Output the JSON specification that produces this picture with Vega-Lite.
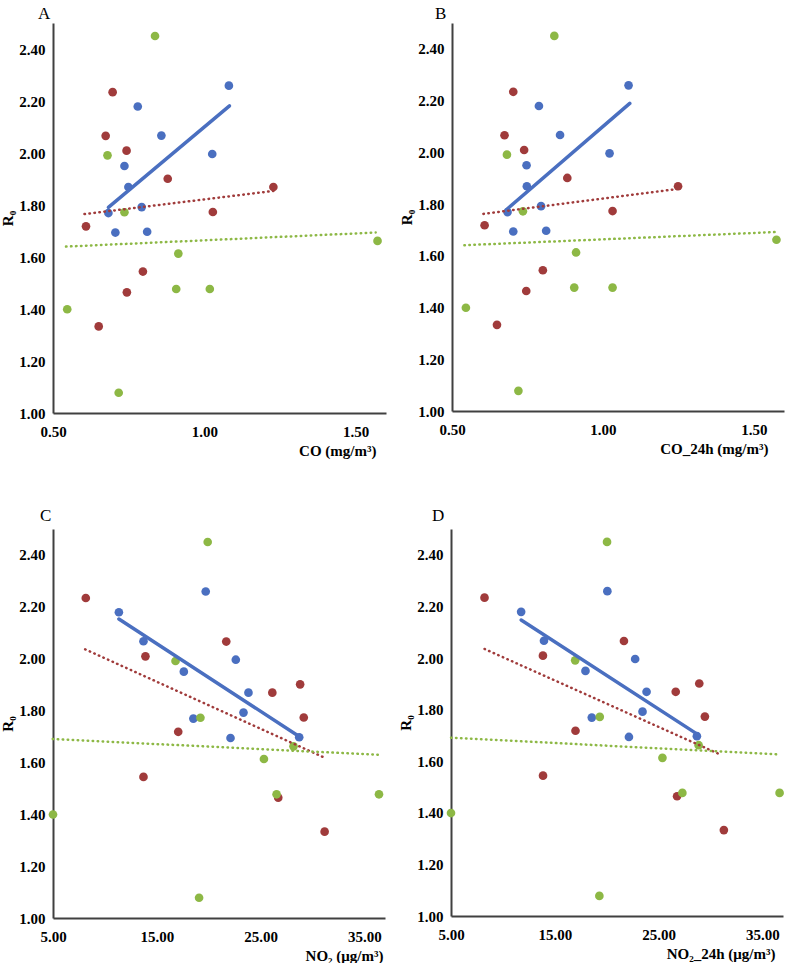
{
  "$schema": "https://vega.github.io/schema/vega-lite/v6.json",
  "background": "white",
  "padding": {"left": 0, "top": 5, "right": 2, "bottom": 0},
  "datasets": {
    "pts": [
      {"p":"A","s":"S1","x":1.081,"r0":2.259},{"p":"A","s":"S1","x":0.78,"r0":2.179},{"p":"A","s":"S1","x":0.858,"r0":2.067},{"p":"A","s":"S1","x":1.026,"r0":1.996},{"p":"A","s":"S1","x":0.736,"r0":1.95},{"p":"A","s":"S1","x":0.749,"r0":1.869},{"p":"A","s":"S1","x":0.793,"r0":1.792},{"p":"A","s":"S1","x":0.683,"r0":1.769},{"p":"A","s":"S1","x":0.706,"r0":1.694},{"p":"A","s":"S1","x":0.811,"r0":1.697},
      {"p":"A","s":"S2","x":0.697,"r0":2.234},{"p":"A","s":"S2","x":0.674,"r0":2.066},{"p":"A","s":"S2","x":0.743,"r0":2.009},{"p":"A","s":"S2","x":0.879,"r0":1.901},{"p":"A","s":"S2","x":1.228,"r0":1.869},{"p":"A","s":"S2","x":1.028,"r0":1.773},{"p":"A","s":"S2","x":0.609,"r0":1.718},{"p":"A","s":"S2","x":0.797,"r0":1.544},{"p":"A","s":"S2","x":0.744,"r0":1.464},{"p":"A","s":"S2","x":0.651,"r0":1.333},
      {"p":"A","s":"S3","x":0.837,"r0":2.45},{"p":"A","s":"S3","x":0.68,"r0":1.991},{"p":"A","s":"S3","x":0.736,"r0":1.772},{"p":"A","s":"S3","x":1.572,"r0":1.662},{"p":"A","s":"S3","x":0.914,"r0":1.613},{"p":"A","s":"S3","x":0.907,"r0":1.477},{"p":"A","s":"S3","x":1.018,"r0":1.477},{"p":"A","s":"S3","x":0.547,"r0":1.399},{"p":"A","s":"S3","x":0.717,"r0":1.078},
      {"p":"B","s":"S1","x":1.085,"r0":2.259},{"p":"B","s":"S1","x":0.788,"r0":2.179},{"p":"B","s":"S1","x":0.858,"r0":2.067},{"p":"B","s":"S1","x":1.022,"r0":1.996},{"p":"B","s":"S1","x":0.747,"r0":1.95},{"p":"B","s":"S1","x":0.748,"r0":1.869},{"p":"B","s":"S1","x":0.795,"r0":1.792},{"p":"B","s":"S1","x":0.684,"r0":1.769},{"p":"B","s":"S1","x":0.703,"r0":1.694},{"p":"B","s":"S1","x":0.812,"r0":1.697},
      {"p":"B","s":"S2","x":0.703,"r0":2.234},{"p":"B","s":"S2","x":0.674,"r0":2.066},{"p":"B","s":"S2","x":0.739,"r0":2.009},{"p":"B","s":"S2","x":0.882,"r0":1.901},{"p":"B","s":"S2","x":1.249,"r0":1.869},{"p":"B","s":"S2","x":1.032,"r0":1.773},{"p":"B","s":"S2","x":0.608,"r0":1.718},{"p":"B","s":"S2","x":0.801,"r0":1.544},{"p":"B","s":"S2","x":0.746,"r0":1.464},{"p":"B","s":"S2","x":0.649,"r0":1.333},
      {"p":"B","s":"S3","x":0.839,"r0":2.45},{"p":"B","s":"S3","x":0.682,"r0":1.991},{"p":"B","s":"S3","x":0.735,"r0":1.772},{"p":"B","s":"S3","x":1.575,"r0":1.662},{"p":"B","s":"S3","x":0.911,"r0":1.613},{"p":"B","s":"S3","x":0.905,"r0":1.477},{"p":"B","s":"S3","x":1.032,"r0":1.477},{"p":"B","s":"S3","x":0.546,"r0":1.399},{"p":"B","s":"S3","x":0.72,"r0":1.078},
      {"p":"C","s":"S1","x":19.72,"r0":2.259},{"p":"C","s":"S1","x":11.35,"r0":2.179},{"p":"C","s":"S1","x":13.72,"r0":2.067},{"p":"C","s":"S1","x":22.62,"r0":1.996},{"p":"C","s":"S1","x":17.61,"r0":1.95},{"p":"C","s":"S1","x":23.84,"r0":1.869},{"p":"C","s":"S1","x":23.36,"r0":1.792},{"p":"C","s":"S1","x":18.53,"r0":1.769},{"p":"C","s":"S1","x":22.11,"r0":1.694},{"p":"C","s":"S1","x":28.73,"r0":1.697},
      {"p":"C","s":"S2","x":8.16,"r0":2.234},{"p":"C","s":"S2","x":21.7,"r0":2.066},{"p":"C","s":"S2","x":13.91,"r0":2.009},{"p":"C","s":"S2","x":28.82,"r0":1.901},{"p":"C","s":"S2","x":26.14,"r0":1.869},{"p":"C","s":"S2","x":29.17,"r0":1.773},{"p":"C","s":"S2","x":17.07,"r0":1.718},{"p":"C","s":"S2","x":13.72,"r0":1.544},{"p":"C","s":"S2","x":26.71,"r0":1.464},{"p":"C","s":"S2","x":31.18,"r0":1.333},
      {"p":"C","s":"S3","x":19.91,"r0":2.45},{"p":"C","s":"S3","x":16.81,"r0":1.991},{"p":"C","s":"S3","x":19.21,"r0":1.772},{"p":"C","s":"S3","x":28.18,"r0":1.662},{"p":"C","s":"S3","x":25.33,"r0":1.613},{"p":"C","s":"S3","x":26.55,"r0":1.477},{"p":"C","s":"S3","x":36.42,"r0":1.477},{"p":"C","s":"S3","x":5.0,"r0":1.399},{"p":"C","s":"S3","x":19.08,"r0":1.078},
      {"p":"D","s":"S1","x":20.07,"r0":2.259},{"p":"D","s":"S1","x":11.76,"r0":2.179},{"p":"D","s":"S1","x":13.96,"r0":2.067},{"p":"D","s":"S1","x":22.75,"r0":1.996},{"p":"D","s":"S1","x":17.96,"r0":1.95},{"p":"D","s":"S1","x":23.85,"r0":1.869},{"p":"D","s":"S1","x":23.46,"r0":1.792},{"p":"D","s":"S1","x":18.57,"r0":1.769},{"p":"D","s":"S1","x":22.15,"r0":1.694},{"p":"D","s":"S1","x":28.7,"r0":1.697},
      {"p":"D","s":"S2","x":8.23,"r0":2.234},{"p":"D","s":"S2","x":21.67,"r0":2.066},{"p":"D","s":"S2","x":13.86,"r0":2.009},{"p":"D","s":"S2","x":28.93,"r0":1.901},{"p":"D","s":"S2","x":26.66,"r0":1.869},{"p":"D","s":"S2","x":29.47,"r0":1.773},{"p":"D","s":"S2","x":17.0,"r0":1.718},{"p":"D","s":"S2","x":13.87,"r0":1.544},{"p":"D","s":"S2","x":26.79,"r0":1.464},{"p":"D","s":"S2","x":31.3,"r0":1.333},
      {"p":"D","s":"S3","x":20.04,"r0":2.45},{"p":"D","s":"S3","x":16.97,"r0":1.991},{"p":"D","s":"S3","x":19.34,"r0":1.772},{"p":"D","s":"S3","x":28.87,"r0":1.662},{"p":"D","s":"S3","x":25.38,"r0":1.613},{"p":"D","s":"S3","x":27.3,"r0":1.477},{"p":"D","s":"S3","x":36.67,"r0":1.477},{"p":"D","s":"S3","x":5.0,"r0":1.399},{"p":"D","s":"S3","x":19.3,"r0":1.078}
    ],
    "trend": [
      {"p":"A","s":"S1","x":0.683,"r0":1.791},{"p":"A","s":"S1","x":1.083,"r0":2.181},
      {"p":"A","s":"S2","x":0.604,"r0":1.765},{"p":"A","s":"S2","x":1.228,"r0":1.854},
      {"p":"A","s":"S3","x":0.543,"r0":1.64},{"p":"A","s":"S3","x":1.566,"r0":1.694},
      {"p":"B","s":"S1","x":0.682,"r0":1.78},{"p":"B","s":"S1","x":1.089,"r0":2.189},
      {"p":"B","s":"S2","x":0.604,"r0":1.762},{"p":"B","s":"S2","x":1.245,"r0":1.858},
      {"p":"B","s":"S3","x":0.541,"r0":1.641},{"p":"B","s":"S3","x":1.576,"r0":1.692},
      {"p":"C","s":"S1","x":11.35,"r0":2.153},{"p":"C","s":"S1","x":28.73,"r0":1.7},
      {"p":"C","s":"S2","x":8.1,"r0":2.036},{"p":"C","s":"S2","x":31.18,"r0":1.618},
      {"p":"C","s":"S3","x":4.97,"r0":1.69},{"p":"C","s":"S3","x":36.5,"r0":1.629},
      {"p":"D","s":"S1","x":11.76,"r0":2.147},{"p":"D","s":"S1","x":28.77,"r0":1.704},
      {"p":"D","s":"S2","x":8.23,"r0":2.035},{"p":"D","s":"S2","x":31.0,"r0":1.625},
      {"p":"D","s":"S3","x":5.0,"r0":1.691},{"p":"D","s":"S3","x":36.67,"r0":1.626}
    ]
  },
  "config": {
    "view": {"stroke": null},
    "axis": {"grid": false, "ticks": false, "domainColor": "#404040", "domainWidth": 2, "labelFont": "Liberation Serif", "labelFontWeight": "bold", "labelFontSize": 15, "labelColor": "#000000", "titleFont": "Liberation Serif", "titleFontWeight": "bold", "titleFontSize": 15, "titleColor": "#000000"},
    "axisX": {"labelPadding": 11, "titlePadding": 4, "labelFlush": false, "titleAnchor": "end", "titleAlign": "right"},
    "axisY": {"labelPadding": 8, "titlePadding": 3},
    "title": {"font": "Liberation Serif", "fontSize": 17, "fontWeight": "normal", "anchor": "start", "frame": "group", "color": "#000000"}
  },
  "spacing": 49,
  "vconcat": [
    {
      "spacing": 13,
      "hconcat": [
        {
          "width": 333, "height": 390,
          "title": {"text": "A", "dx": -15, "offset": 0},
          "encoding": {
            "x": {"field": "x", "type": "quantitative", "scale": {"domain": [0.5, 1.6], "nice": false, "zero": false}, "axis": {"values": [0.5, 1.0, 1.5], "format": ".2f", "title": "CO (mg/m³)", "titleX": 323}},
            "y": {"field": "r0", "type": "quantitative", "scale": {"domain": [1.0, 2.5], "nice": false, "zero": false}, "axis": {"values": [1.0, 1.2, 1.4, 1.6, 1.8, 2.0, 2.2, 2.4], "format": ".2f", "title": "R₀"}},
            "color": {"field": "s", "type": "nominal", "scale": {"domain": ["S1", "S2", "S3"], "range": ["#4A6FC0", "#A03B3B", "#8DB845"]}, "legend": null}
          },
          "layer": [
            {"data": {"name": "pts"}, "transform": [{"filter": "datum.p === 'A'"}], "mark": {"type": "circle", "size": 75, "opacity": 1}},
            {"data": {"name": "trend"}, "transform": [{"filter": "datum.p === 'A' && datum.s === 'S1'"}], "mark": {"type": "line", "strokeWidth": 3.5, "strokeCap": "round"}},
            {"data": {"name": "trend"}, "transform": [{"filter": "datum.p === 'A' && datum.s !== 'S1'"}], "mark": {"type": "line", "strokeWidth": 2.5, "strokeCap": "round", "strokeDash": [0.5, 4.5]}}
          ]
        },
        {
          "width": 332, "height": 388,
          "title": {"text": "B", "dx": -17, "offset": 0},
          "encoding": {
            "x": {"field": "x", "type": "quantitative", "scale": {"domain": [0.5, 1.6], "nice": false, "zero": false}, "axis": {"values": [0.5, 1.0, 1.5], "format": ".2f", "title": "CO_24h (mg/m³)", "titleX": 316}},
            "y": {"field": "r0", "type": "quantitative", "scale": {"domain": [1.0, 2.5], "nice": false, "zero": false}, "axis": {"values": [1.0, 1.2, 1.4, 1.6, 1.8, 2.0, 2.2, 2.4], "format": ".2f", "title": "R₀"}},
            "color": {"field": "s", "type": "nominal", "scale": {"domain": ["S1", "S2", "S3"], "range": ["#4A6FC0", "#A03B3B", "#8DB845"]}, "legend": null}
          },
          "layer": [
            {"data": {"name": "pts"}, "transform": [{"filter": "datum.p === 'B'"}], "mark": {"type": "circle", "size": 75, "opacity": 1}},
            {"data": {"name": "trend"}, "transform": [{"filter": "datum.p === 'B' && datum.s === 'S1'"}], "mark": {"type": "line", "strokeWidth": 3.5, "strokeCap": "round"}},
            {"data": {"name": "trend"}, "transform": [{"filter": "datum.p === 'B' && datum.s !== 'S1'"}], "mark": {"type": "line", "strokeWidth": 2.5, "strokeCap": "round", "strokeDash": [0.5, 4.5]}}
          ]
        }
      ]
    },
    {
      "spacing": 13,
      "hconcat": [
        {
          "width": 332, "height": 389,
          "title": {"text": "C", "dx": -13, "offset": 4},
          "encoding": {
            "x": {"field": "x", "type": "quantitative", "scale": {"domain": [5, 37], "nice": false, "zero": false}, "axis": {"values": [5, 15, 25, 35], "format": ".2f", "title": "NO₂ (μg/m³)", "titleX": 330}},
            "y": {"field": "r0", "type": "quantitative", "scale": {"domain": [1.0, 2.5], "nice": false, "zero": false}, "axis": {"values": [1.0, 1.2, 1.4, 1.6, 1.8, 2.0, 2.2, 2.4], "format": ".2f", "title": "R₀"}},
            "color": {"field": "s", "type": "nominal", "scale": {"domain": ["S1", "S2", "S3"], "range": ["#4A6FC0", "#A03B3B", "#8DB845"]}, "legend": null}
          },
          "layer": [
            {"data": {"name": "pts"}, "transform": [{"filter": "datum.p === 'C'"}], "mark": {"type": "circle", "size": 75, "opacity": 1}},
            {"data": {"name": "trend"}, "transform": [{"filter": "datum.p === 'C' && datum.s === 'S1'"}], "mark": {"type": "line", "strokeWidth": 3.5, "strokeCap": "round"}},
            {"data": {"name": "trend"}, "transform": [{"filter": "datum.p === 'C' && datum.s !== 'S1'"}], "mark": {"type": "line", "strokeWidth": 2.5, "strokeCap": "round", "strokeDash": [0.5, 4.5]}}
          ]
        },
        {
          "width": 332, "height": 387,
          "title": {"text": "D", "dx": -19, "offset": 4},
          "encoding": {
            "x": {"field": "x", "type": "quantitative", "scale": {"domain": [5, 37], "nice": false, "zero": false}, "axis": {"values": [5, 15, 25, 35], "format": ".2f", "title": "NO₂_24h (μg/m³)", "titleX": 324}},
            "y": {"field": "r0", "type": "quantitative", "scale": {"domain": [1.0, 2.5], "nice": false, "zero": false}, "axis": {"values": [1.0, 1.2, 1.4, 1.6, 1.8, 2.0, 2.2, 2.4], "format": ".2f", "title": "R₀"}},
            "color": {"field": "s", "type": "nominal", "scale": {"domain": ["S1", "S2", "S3"], "range": ["#4A6FC0", "#A03B3B", "#8DB845"]}, "legend": null}
          },
          "layer": [
            {"data": {"name": "pts"}, "transform": [{"filter": "datum.p === 'D'"}], "mark": {"type": "circle", "size": 75, "opacity": 1}},
            {"data": {"name": "trend"}, "transform": [{"filter": "datum.p === 'D' && datum.s === 'S1'"}], "mark": {"type": "line", "strokeWidth": 3.5, "strokeCap": "round"}},
            {"data": {"name": "trend"}, "transform": [{"filter": "datum.p === 'D' && datum.s !== 'S1'"}], "mark": {"type": "line", "strokeWidth": 2.5, "strokeCap": "round", "strokeDash": [0.5, 4.5]}}
          ]
        }
      ]
    }
  ]
}
